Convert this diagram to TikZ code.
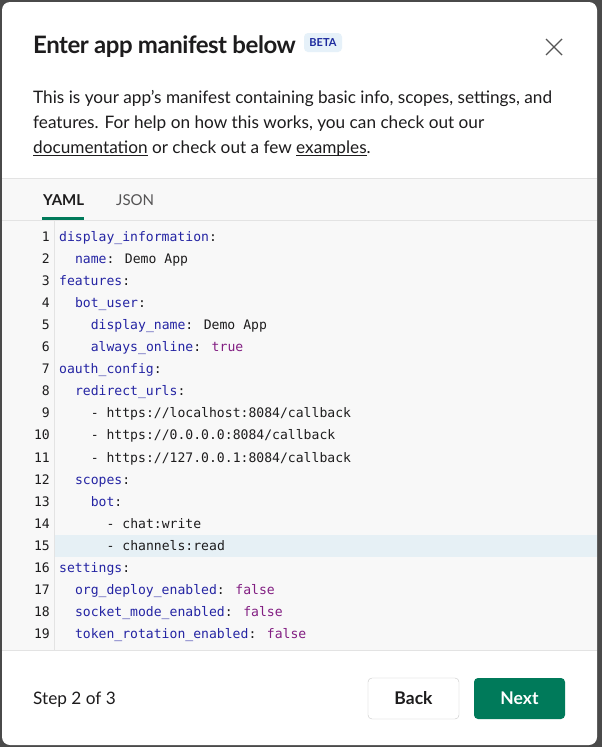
\documentclass[tikz,border=0pt]{standalone}
\usepackage{fontspec}
\setmainfont{Lato}
\newfontfamily\codefont{DejaVu Sans Mono}
\newfontfamily\titlefont[LetterSpace=-2]{Lato Bold}
\usetikzlibrary{positioning}
\definecolor{ink}{HTML}{1D1C1D}
\definecolor{mutedink}{HTML}{555455}
\definecolor{keyblue}{HTML}{2424A3}
\definecolor{valpurple}{HTML}{821E82}
\definecolor{slackgreen}{HTML}{007A5A}
\definecolor{codebg}{HTML}{F8F8F8}
\definecolor{rulegray}{HTML}{E3E3E3}
\definecolor{hilite}{HTML}{E6F0F5}
\definecolor{badgebg}{HTML}{E6F1F9}
\definecolor{badgeink}{HTML}{1D2A9E}
\definecolor{backdrop}{HTML}{4A4A4A}
\newcommand{\ky}[1]{\textcolor{keyblue}{#1}}
\newcommand{\vl}[1]{\textcolor{valpurple}{#1}}
\newcommand{\ulink}[1]{\setbox0\hbox{#1}\rlap{\rule[-2.6pt]{\wd0}{0.9pt}}\box0\relax}
\tikzset{
    code/.style={anchor=base west, inner sep=0pt, text=ink, font=\codefont\fontsize{13.1}{15}\selectfont},
    lnum/.style={anchor=base east, inner sep=0pt, text=ink, font=\codefont\fontsize{13.1}{15}\selectfont},
    ui/.style={anchor=base west, inner sep=0pt, text=ink, font=\fontsize{17.2}{21}\selectfont},
    button/.style={rounded corners=4pt, minimum width=91pt, minimum height=41pt, inner sep=0pt, font=\bfseries\fontsize{17.5}{21}\selectfont}
}
\begin{document}
\begin{tikzpicture}[x=1pt, y=-1pt]
    \fill[backdrop] (0,0) rectangle (602,747);
    \useasboundingbox (0,0) rectangle (602,747);
    \fill[white, rounded corners=8pt] (2,2) rectangle (597,745);
    % header
    \node[ui, font=\titlefont\fontsize{24}{29}\selectfont] (title) at (33,53) {Enter app manifest below};
    \fill[badgebg, rounded corners=4pt] (304,33) rectangle (342,52);
    \node[inner sep=0pt, text=badgeink, font=\bfseries\fontsize{11}{13}\selectfont] (beta) at (323,43) {BETA};
    \draw[ink!75, line width=1.4pt] (546,39) -- (562,55) (562,39) -- (546,55);
    \node[ui] (intro1) at (33,103) {This is your app’s manifest containing basic info, scopes, settings, and};
    \node[ui] (intro2) at (33,128) {features. For help on how this works, you can check out our};
    \node[ui] (intro3) at (33,153) {\ulink{documentation} or check out a few \ulink{examples}.};
    % editor
    \fill[codebg] (2,178) rectangle (597,650);
    \draw[rulegray] (2,178) -- (597,178);
    \draw[rulegray] (2,220) -- (597,220);
    \draw[rulegray] (2,650) -- (597,650);
    \draw[rulegray] (54,220) -- (54,650);
    \node[ui, font=\bfseries\fontsize{15}{18}\selectfont] (yaml) at (43,205) {YAML};
    \node[ui, text=mutedink, font=\fontsize{15}{18}\selectfont] (json) at (116,205) {JSON};
    \fill[slackgreen] (42,217) rectangle (84,220);
    \fill[hilite] (55,535) rectangle (597,557);
    \foreach \n/\ind/\txt in {
        1/0/{\ky{display\_information}:},
        2/2/{\ky{name}: Demo App},
        3/0/{\ky{features}:},
        4/2/{\ky{bot\_user}:},
        5/4/{\ky{display\_name}: Demo App},
        6/4/{\ky{always\_online}: \vl{true}},
        7/0/{\ky{oauth\_config}:},
        8/2/{\ky{redirect\_urls}:},
        9/4/{- https://localhost:8084/callback},
        10/4/{- https://0.0.0.0:8084/callback},
        11/4/{- https://127.0.0.1:8084/callback},
        12/2/{\ky{scopes}:},
        13/4/{\ky{bot}:},
        14/6/{- chat:write},
        15/6/{- channels:read},
        16/0/{\ky{settings}:},
        17/2/{\ky{org\_deploy\_enabled}: \vl{false}},
        18/2/{\ky{socket\_mode\_enabled}: \vl{false}},
        19/2/{\ky{token\_rotation\_enabled}: \vl{false}}}
    {
        \pgfmathsetmacro\yb{241.5+(\n-1)*22.05}
        \pgfmathsetmacro\xb{59+\ind*7.9}
        \node[lnum] (n\n) at (50,\yb) {\n};
        \node[code] (c\n) at (\xb,\yb) {\txt};
    }
    % footer
    \node[ui] (step) at (33,704) {Step 2 of 3};
    \node[button, draw=black!22, fill=white, text=ink] (back) at (413.5,698.5) {Back};
    \node[button, fill=slackgreen, text=white] (next) at (519.5,698.5) {Next};
\end{tikzpicture}
\end{document}
